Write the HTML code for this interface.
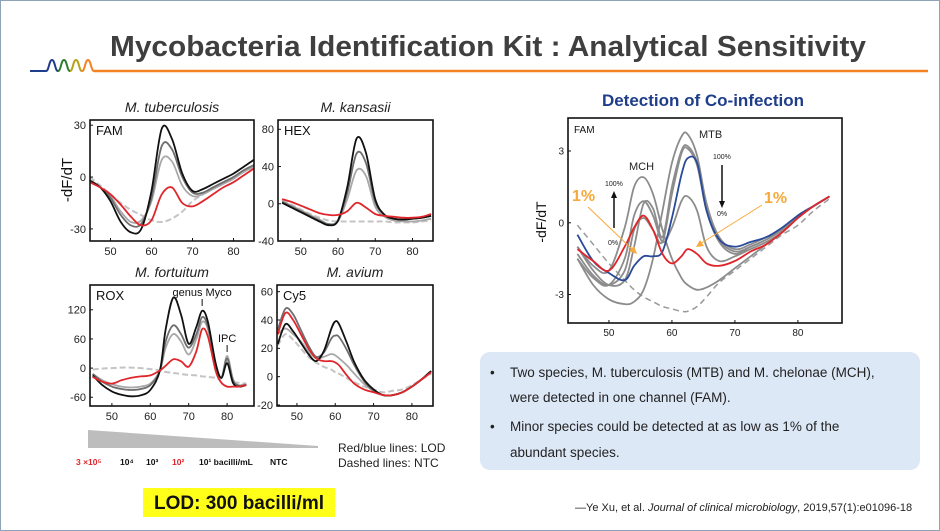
<!DOCTYPE html>
<html><head><meta charset="utf-8"><style>
html,body{margin:0;padding:0;background:#fff}
svg{display:block}
text{font-family:"Liberation Sans",sans-serif}
</style></head><body>
<svg id="s" width="940" height="531" viewBox="0 0 940 531" xmlns="http://www.w3.org/2000/svg">
<rect x="0.5" y="0.5" width="939" height="530" fill="#fff" stroke="#8fa3b8"/>
<text x="488" y="56" text-anchor="middle" font-size="29" font-weight="bold" fill="#3f3f3f" textLength="756" lengthAdjust="spacingAndGlyphs">Mycobacteria Identification Kit : Analytical Sensitivity</text>
<g>
<path d="M30 71 H46 C49 71 49 60 52 60 C55 60 55 71 58 71" fill="none" stroke="#1f3e8a" stroke-width="2"/>
<path d="M58 71 C61 71 61 60 64 60 C67 60 67 71 70 71" fill="none" stroke="#2e7d32" stroke-width="2"/>
<path d="M70 71 C73 71 73 60 76 60 C79 60 79 71 82 71" fill="none" stroke="#b5a21a" stroke-width="2"/>
<path d="M82 71 C85 71 85 60 88 60 C91 60 91 71 94 71" fill="none" stroke="#f58220" stroke-width="2"/>
</g>
<line x1="94" y1="71" x2="928" y2="71" stroke="#f58220" stroke-width="2.5"/>
<g id="charts"></g>

<g>
<polygon points="88,430 318,446 318,448 88,448" fill="#bdbdbd"/>
<text y="465" font-size="8.5" font-weight="bold">
<tspan x="76" fill="#e0262b">3 ×10⁵</tspan><tspan x="120" fill="#111">10⁴</tspan><tspan x="146" fill="#111">10³</tspan><tspan x="172" fill="#e0262b">10²</tspan><tspan x="199" fill="#111">10¹ bacilli/mL</tspan><tspan x="270" fill="#111">NTC</tspan></text>
<text x="338" y="452" font-size="12" fill="#222">Red/blue lines: LOD</text>
<text x="338" y="467" font-size="12" fill="#222">Dashed lines: NTC</text>
</g>
<rect x="143" y="488" width="192" height="29" fill="#ffff1a"/>
<text x="239" y="509" text-anchor="middle" font-size="19" font-weight="bold" fill="#111">LOD: 300 bacilli/ml</text>

<rect x="480" y="352" width="440" height="118" rx="10" fill="#dde8f7"/>
<g font-size="13.5" fill="#222">
<text x="490" y="377">•</text><text x="510" y="377">Two species, M. tuberculosis (MTB) and M. chelonae (MCH),</text>
<text x="510" y="402">were detected in one channel (FAM).</text>
<text x="490" y="431">•</text><text x="510" y="431">Minor species could be detected at as low as 1% of the</text>
<text x="510" y="457">abundant species.</text>
</g>
<text x="575" y="511" font-size="11" fill="#222">—Ye Xu, et al. <tspan font-style="italic">Journal of clinical microbiology</tspan>, 2019,57(1):e01096-18</text>
<text x="703" y="106" text-anchor="middle" font-size="17" font-weight="bold" fill="#1f3e8a">Detection of Co-infection</text>
</svg>
<script>
// ---- data ----
const xTicks = [50,60,70,80];
const famTemps = [45,47.5,50,52.5,55,57.5,60,62.5,65,67.5,70,72.5,75,77.5,80,82.5,85];
const famYTicks = [30,0,-30];
const famBlack = [-2,-6,-14,-26,-32,-30,-8,28,22,2,-8,-7,-4,-1,2,6,10];
const famDark = [-3,-6,-12,-22,-28,-27,-12,18,16,0,-9,-9,-6,-3,0,4,7];
const famLight = [-3,-6,-11,-20,-26,-25,-14,10,9,-5,-11,-10,-7,-4,-1,3,6];
const famRed = [-3,-6,-10,-16,-23,-28,-25,-10,-6,-15,-17,-14,-10,-6,-3,1,5];
const famNtc = [0,-5,-10,-15,-19,-22,-25,-26,-24,-20,-14,-10,-6,-3,0,3,6];

const hexTemps = famTemps;
const hexYTicks = [80,40,0,-40];
const hexBlack = [1,-4,-9,-14,-19,-23,-18,18,70,55,5,-12,-16,-17,-16,-15,-13];
const hexDark = [2,-3,-8,-13,-18,-22,-18,12,54,44,2,-12,-16,-17,-16,-15,-13];
const hexLight = [3,-2,-7,-12,-17,-22,-19,5,36,30,-3,-14,-18,-19,-19,-18,-16];
const hexRed = [5,2,-2,-6,-10,-12,-12,-8,1,-4,-11,-13,-14,-15,-15,-14,-11];
const hexNtc = [4,-1,-6,-11,-15,-18,-19,-19,-19,-19,-19,-19,-20,-20,-20,-19,-18];

const roxTemps = [45,47.5,50,52.5,55,57.5,60,62.5,64,66,68,70,72,73.5,75,77,78.5,80,81.5,83,85];
const roxYTicks = [120,60,0,-60];
const roxBlack = [-15,-35,-48,-55,-58,-56,-45,-5,80,145,110,50,85,118,95,10,-20,10,-30,-38,-35];
const roxDark = [-12,-28,-38,-43,-45,-43,-35,-5,55,88,70,42,70,105,85,10,-20,20,-25,-36,-34];
const roxLight = [-12,-25,-33,-38,-40,-38,-32,-5,42,70,55,28,60,95,80,8,-20,25,-22,-35,-33];
const roxRed = [-18,-28,-32,-25,-20,-17,-15,-5,5,18,14,3,35,80,65,-5,-30,-38,-38,-38,-35];
const roxNtc = [-3,-1,0,1,1,0,-2,-5,-8,-10,-12,-14,-15,-17,-18,-20,-21,15,-25,-30,-32];

const cy5Temps = [45,47,49,51,53,55,57,59,60,61,63,65,67.5,70,72.5,75,77.5,80,82.5,85];
const cy5YTicks = [60,40,20,0,-20];
const cy5Black = [23,37,32,24,16,11,18,34,39,37,24,10,-2,-9,-13,-13,-11,-7,-2,4];
const cy5Dark = [33,48,44,33,22,14,17,27,29,28,19,8,-3,-10,-13,-13,-11,-7,-2,4];
const cy5Light = [30,34,30,25,18,13,14,16,15,13,8,2,-5,-10,-13,-13,-11,-7,-2,3];
const cy5Red = [30,45,40,30,20,13,11,11,10,8,1,-5,-9,-11,-13,-13,-11,-7,-2,3];
const cy5Ntc = [22,30,26,20,14,10,7,5,3,2,-1,-4,-7,-9,-11,-10,-9,-6,-2,2];

const coTemps = [45,47.5,50,52.5,54,55.5,57,58.5,60,61.5,62.5,64,65.5,67.5,70,72.5,75,77.5,80,82.5,85];
const coYTicks = [3,0,-3];
const coGray1 = [-1.0,-1.8,-2.0,-0.2,1.5,1.9,1.2,-0.3,-1.5,-2.3,-2.6,-2.8,-2.7,-2.4,-1.9,-1.4,-0.9,-0.4,0.2,0.7,1.1];
const coGray2 = [-1.5,-2.6,-3.2,-3.4,-3.3,-2.8,-1.5,0.5,2.5,3.6,3.7,2.8,0.8,-0.6,-1.1,-0.9,-0.6,-0.3,0.3,0.7,1.1];
const coGray3 = [-1.0,-2.0,-2.6,-2.4,-1.0,0.8,0.6,-0.6,1.5,3.0,3.2,2.5,0.6,-0.7,-1.2,-1.0,-0.7,-0.3,0.3,0.7,1.1];
const coGray4 = [-1.3,-2.2,-2.6,-2.0,-0.3,0.2,-0.3,-0.8,1.2,2.9,3.1,2.4,0.5,-0.8,-1.3,-1.0,-0.7,-0.3,0.3,0.7,1.1];
const coGray5 = [-1.5,-2.3,-2.6,-1.5,0.3,0.9,0.3,-0.8,-0.2,0.9,1.1,0.5,-1.0,-1.6,-1.4,-1.1,-0.8,-0.4,0.2,0.7,1.1];
const coBlue = [-0.5,-1.6,-2.1,-2.4,-1.8,-1.4,-1.4,-1.2,0.2,2.0,2.7,2.5,0.5,-0.7,-1.0,-0.8,-0.6,-0.2,0.3,0.7,1.1];
const coRed = [-1.1,-1.6,-2.0,-1.0,-0.2,0.3,-0.3,-1.3,-1.7,-1.4,-1.1,-1.3,-1.7,-1.8,-1.6,-1.2,-0.9,-0.4,0.2,0.7,1.1];
const coNtc = [-0.1,-0.9,-1.7,-2.4,-2.8,-3.1,-3.3,-3.5,-3.6,-3.7,-3.7,-3.5,-3.1,-2.5,-2.0,-1.5,-1.0,-0.5,-0.1,0.5,1.0];

// ---- rendering ----
const NS = "http://www.w3.org/2000/svg";
const root = document.getElementById('charts');
function mk(tag, attrs, parent){
  const e = document.createElementNS(NS, tag);
  for (const k in attrs) e.setAttribute(k, attrs[k]);
  (parent||root).appendChild(e);
  return e;
}
function smoothPath(pts){
  let d = 'M' + pts[0][0].toFixed(1) + ' ' + pts[0][1].toFixed(1);
  for (let i=0;i<pts.length-1;i++){
    const p0=pts[Math.max(0,i-1)], p1=pts[i], p2=pts[i+1], p3=pts[Math.min(pts.length-1,i+2)];
    const c1x=p1[0]+(p2[0]-p0[0])/6, c1y=p1[1]+(p2[1]-p0[1])/6;
    const c2x=p2[0]-(p3[0]-p1[0])/6, c2y=p2[1]-(p3[1]-p1[1])/6;
    d += ' C'+c1x.toFixed(1)+' '+c1y.toFixed(1)+' '+c2x.toFixed(1)+' '+c2y.toFixed(1)+' '+p2[0].toFixed(1)+' '+p2[1].toFixed(1);
  }
  return d;
}
function panel(cfg){
  const g = mk('g', {});
  
  
  const sx = t => cfg.x0 + (t - cfg.t0)/(cfg.t1 - cfg.t0)*(cfg.x1 - cfg.x0);
  const sy = v => cfg.y0 + (cfg.vTop - v)/(cfg.vTop - cfg.vBot)*(cfg.y1 - cfg.y0);
  const cp = 'clip-' + cfg.name;
  const defs = mk('defs', {}, g);
  const c = mk('clipPath', {id: cp}, defs);
  mk('rect', {x: cfg.x0, y: cfg.y0, width: cfg.x1-cfg.x0, height: cfg.y1-cfg.y0}, c);
  const sg = mk('g', {'clip-path': 'url(#'+cp+')'}, g);
  cfg.series.forEach(s => {
    const pts = cfg.temps.map((t,i) => [sx(t), sy(s.vals[i])]);
    const p = mk('path', {d: smoothPath(pts), fill: 'none', stroke: s.color, 'stroke-width': s.w || 1.8, 'stroke-dasharray': s.dash || 'none', 'stroke-linejoin': 'round'}, sg);
    
    
  });
  const box = mk('rect', {x: cfg.x0, y: cfg.y0, width: cfg.x1-cfg.x0, height: cfg.y1-cfg.y0, fill: 'none', stroke: '#111', 'stroke-width': 1.6}, g);
  
  
  xTicks.forEach(t => {
    const x = sx(t);
    mk('line', {x1: x, x2: x, y1: cfg.y1, y2: cfg.y1-3, stroke: '#111'}, g);
    const tl = mk('text', {x: x, y: cfg.y1 + cfg.fs + 3, 'text-anchor': 'middle', 'font-size': cfg.fs, fill: '#222'}, g);
    tl.textContent = t;
    
    
  });
  cfg.yTicks.forEach(v => {
    const y = sy(v);
    mk('line', {x1: cfg.x0, x2: cfg.x0+3, y1: y, y2: y, stroke: '#111'}, g);
    const tl = mk('text', {x: cfg.x0 - 4, y: y + cfg.fs*0.35, 'text-anchor': 'end', 'font-size': cfg.fs, fill: '#222'}, g);
    tl.textContent = v;
    
    
  });
  if (cfg.title){
    const tt = mk('text', {x: (cfg.x0+cfg.x1)/2, y: cfg.y0 - 8, 'text-anchor': 'middle', 'font-size': 14, 'font-style': 'italic', fill: '#222'}, g);
    tt.textContent = cfg.title;
    
    
  }
  const ch = mk('text', {x: cfg.x0 + 6, y: cfg.y0 + 15, 'font-size': cfg.chfs, fill: '#111'}, g);
  ch.textContent = cfg.channel;
  
  
  return {sx, sy, g};
}
function std(black, dark, light, red, ntc){
  return [
    {name:'ntc-curve', vals: ntc, color:'#c4c4c4', dash:'6 3', w:2},
    {name:'light-gray-curve', vals: light, color:'#a8a8a8'},
    {name:'dark-gray-curve', vals: dark, color:'#6e6e6e'},
    {name:'black-curve', vals: black, color:'#111'},
    {name:'red-lod-curve', vals: red, color:'#e0262b'}
  ];
}
panel({name:'fam-panel', title:'M. tuberculosis', channel:'FAM', x0:90, x1:254, y0:120, y1:241, t0:45, t1:85, vTop:33, vBot:-37, temps:famTemps, yTicks:famYTicks, fs:11, chfs:13, series: std(famBlack,famDark,famLight,famRed,famNtc)});
panel({name:'hex-panel', title:'M. kansasii', channel:'HEX', x0:278, x1:433, y0:120, y1:241, t0:43.9, t1:85.5, vTop:90, vBot:-40, temps:hexTemps, yTicks:hexYTicks, fs:11, chfs:13, series: std(hexBlack,hexDark,hexLight,hexRed,hexNtc)});
const rox = panel({name:'rox-panel', title:'M. fortuitum', channel:'ROX', x0:90, x1:254, y0:285, y1:406, t0:44.3, t1:87, vTop:171, vBot:-78, temps:roxTemps, yTicks:roxYTicks, fs:11, chfs:13, series: std(roxBlack,roxDark,roxLight,roxRed,roxNtc)});
panel({name:'cy5-panel', title:'M. avium', channel:'Cy5', x0:277, x1:433, y0:285, y1:406, t0:44.8, t1:85.5, vTop:64.7, vBot:-20.7, temps:cy5Temps, yTicks:cy5YTicks, fs:11, chfs:13, series: std(cy5Black,cy5Dark,cy5Light,cy5Red,cy5Ntc)});
const yl = mk('text', {x: 72, y: 180, 'text-anchor':'middle', 'font-size': 15, fill:'#111', transform:'rotate(-90 72 180)'});
yl.textContent = '-dF/dT';


// rox annotations
const gm = mk('text', {x: rox.sx(73.5), y: 296, 'text-anchor':'middle', 'font-size': 11, fill:'#111'});
gm.textContent = 'genus Myco';


mk('line', {x1: rox.sx(73.5), x2: rox.sx(73.5), y1: 299, y2: 306, stroke:'#111'});
const ipc = mk('text', {x: rox.sx(80), y: 342, 'text-anchor':'middle', 'font-size': 11, fill:'#111'});
ipc.textContent = 'IPC';


mk('line', {x1: rox.sx(80), x2: rox.sx(80), y1: 345, y2: 352, stroke:'#111'});

// co-infection
const co = panel({name:'coinfection-panel', title:'', channel:'FAM', x0:568, x1:842, y0:118, y1:323, t0:43.5, t1:87, vTop:4.38, vBot:-4.19, temps:coTemps, yTicks:coYTicks, fs:10, chfs:10, series:[
  {name:'ntc-curve', vals: coNtc, color:'#999', dash:'6 4', w:1.5},
  {name:'gray-curve-1', vals: coGray1, color:'#8c8c8c', w:1.8},
  {name:'gray-curve-2', vals: coGray2, color:'#8c8c8c', w:1.8},
  {name:'gray-curve-3', vals: coGray3, color:'#8c8c8c', w:1.8},
  {name:'gray-curve-4', vals: coGray4, color:'#8c8c8c', w:1.8},
  {name:'gray-curve-5', vals: coGray5, color:'#8c8c8c', w:1.8},
  {name:'blue-lod-curve', vals: coBlue, color:'#2a4a9a', w:1.8},
  {name:'red-lod-curve', vals: coRed, color:'#e0262b', w:1.8}
]});
const yl2 = mk('text', {x: 546, y: 222, 'text-anchor':'middle', 'font-size': 14, fill:'#111', transform:'rotate(-90 546 222)'});
yl2.textContent = '-dF/dT';


function label(txt, x, y, fs, name, extra){
  const a = {x:x, y:y, 'font-size':fs, fill:'#222'};
  for (const k in (extra||{})) a[k] = extra[k];
  const t = mk('text', a);
  t.textContent = txt;
  
  
}
label('MTB', 699, 138, 11, 'mtb-label');
label('MCH', 629, 170, 11, 'mch-label');
label('100%', 605, 186, 7, 'mch-100-label');
label('0%', 608, 245, 7, 'mch-0-label');
label('100%', 713, 159, 7, 'mtb-100-label');
label('0%', 717, 216, 7, 'mtb-0-label');
label('1%', 572, 201, 16, 'one-percent-left', {fill:'#f7a93b','font-weight':'bold'});
label('1%', 764, 203, 16, 'one-percent-right', {fill:'#f7a93b','font-weight':'bold'});
mk('line', {x1:614, y1:228, x2:614, y2:196, stroke:'#111', 'stroke-width':1.5});
mk('polygon', {points:'611,198 617,198 614,191', fill:'#111'});
mk('line', {x1:722, y1:165, x2:722, y2:203, stroke:'#111', 'stroke-width':1.5});
mk('polygon', {points:'719,201 725,201 722,208', fill:'#111'});
mk('line', {x1:588, y1:207, x2:634, y2:251, stroke:'#f7a93b', 'stroke-width':1});
mk('polygon', {points:'637,254 629,251 634,246', fill:'#f7a93b'});
mk('line', {x1:762, y1:205, x2:700, y2:244, stroke:'#f7a93b', 'stroke-width':1});
mk('polygon', {points:'696,247 700,240 704,246', fill:'#f7a93b'});
</script>
</body></html>
